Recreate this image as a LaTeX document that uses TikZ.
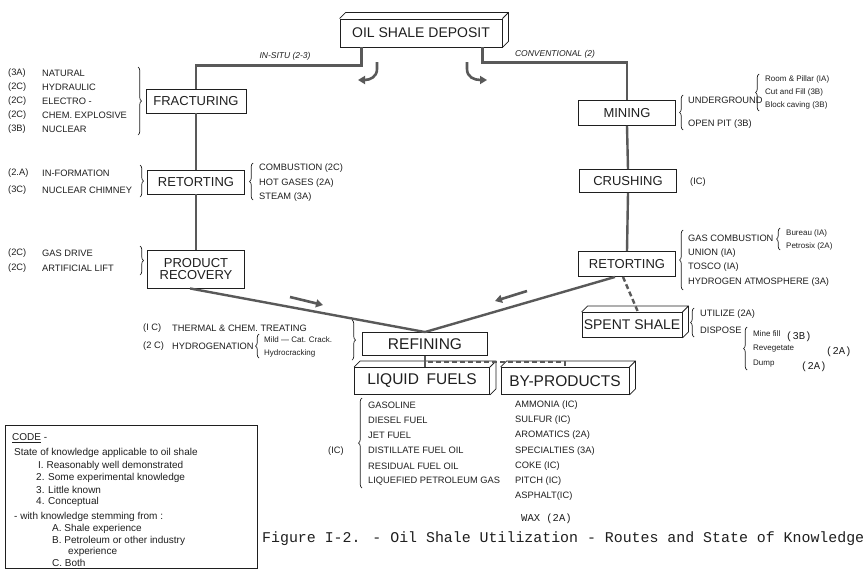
\documentclass[tikz,border=0pt]{standalone}
\usepackage{fontspec}
\setmainfont{Liberation Sans}
\newfontfamily\typefont{Liberation Mono}
\usetikzlibrary{arrows.meta,calc,decorations.pathreplacing}
\definecolor{ink}{gray}{0.12}
\definecolor{wire}{gray}{0.35}
% raised slab look for a stage box: top face and right face
\newcommand{\slab}[1]{%
  \draw[draw=ink, line width=0.8pt]
    (#1.north west) -- ++(6,-6) -- ($(#1.north east)+(6,-6)$)
    -- ($(#1.south east)+(6,-6)$) -- (#1.south east)
    (#1.north east) -- ++(6,-6);}
\begin{document}
\begin{tikzpicture}[x=1pt,y=-1pt,
  stage/.style={draw=ink, line width=0.9pt, fill=white, text=ink,
    font=\fontsize{13}{14}\selectfont, inner sep=0pt, minimum height=24pt, align=center},
  big/.style={font=\fontsize{15.5}{16}\selectfont},
  note/.style={text=ink, font=\fontsize{9.3}{10}\selectfont, inner sep=0pt, anchor=west},
  key/.style={text=ink, font=\fontsize{10}{11}\selectfont, inner sep=0pt, anchor=west},
  fine/.style={text=ink, font=\fontsize{8}{9}\selectfont, inner sep=0pt, anchor=west},
  route/.style={text=ink, font=\itshape\fontsize{8.5}{9}\selectfont, inner sep=0pt},
  typed/.style={text=ink, font=\typefont\fontsize{10.5}{11}\selectfont, inner sep=0pt, anchor=west},
  link/.style={draw=wire, line width=2.4pt},
  dlink/.style={draw=wire, line width=2.4pt, dash pattern=on 5pt off 3pt},
  grp/.style={draw=ink, line width=0.7pt, decorate, decoration={brace, amplitude=3.5pt}},
  flow/.style={draw=wire, line width=2.6pt, -{Triangle[length=7pt,width=8pt]}},
]
\useasboundingbox (0,0) rectangle (867,570);
\fill[white] (0,0) rectangle (867,570);

% ---------- stages ----------
\node[stage, font=\fontsize{14}{15}\selectfont, minimum width=162pt, minimum height=28pt] (deposit) at (421,33) {OIL SHALE DEPOSIT};
\node[stage, minimum width=100pt] (fract) at (196,101) {FRACTURING};
\node[stage, minimum width=97pt] (retl) at (196,182) {RETORTING};
\node[stage, minimum width=97pt, minimum height=38pt] (prod) at (196,269) {PRODUCT\\[-2pt]RECOVERY};
\node[stage, minimum width=97pt, minimum height=25pt] (mining) at (627,113) {MINING};
\node[stage, minimum width=97pt, minimum height=23pt] (crush) at (628,181) {CRUSHING};
\node[stage, minimum width=97pt, minimum height=25pt] (retr) at (627,264) {RETORTING};
\node[stage, font=\fontsize{14}{15}\selectfont, minimum width=100pt, minimum height=25pt] (spent) at (632,325) {SPENT SHALE};
\node[stage, big, minimum width=125pt, minimum height=23pt] (refine) at (425,344) {REFINING};
\node[stage, big, minimum width=135pt, minimum height=27pt] (liquid) at (422,381) {LIQUID\hspace{0.5em}FUELS};
\node[stage, big, minimum width=128pt, minimum height=27pt] (byprod) at (565,381) {BY-PRODUCTS};
\slab{deposit}
\slab{spent}
\slab{liquid}
\slab{byprod}

% ---------- routes ----------
\draw[link] ([xshift=22pt]deposit.south west) -- ++(0,18) -| (fract.north);
\draw[link] ([xshift=-20pt]deposit.south east) -- ++(0,15) -| (mining.north);
\node[route] (insitu) at (285,56) {IN-SITU (2-3)};
\node[route] (conv) at (555,54) {CONVENTIONAL (2)};
\coordinate (ia) at (377,62); \coordinate (ib) at (358,80);
\coordinate (ca) at (467,62); \coordinate (cb) at (487,80);
\draw[flow] (ia) -- ++(0,7) .. controls (377,77) and (370,80) .. (ib);
\draw[flow] (ca) -- ++(0,7) .. controls (467,77) and (474,80) .. (cb);

\draw[link] (fract.south) -- (retl.north);
\draw[link] (retl.south) -- (prod.north);
\draw[link] (mining.south) -- (crush.north);
\draw[link] (crush.south) -- (retr.north);
\draw[link] ([xshift=-6pt]prod.south) -- (refine.north);
\draw[link] ([xshift=-12pt]retr.south) -- (refine.north);
\draw[dlink] ([xshift=-4pt]retr.south) -- ([xshift=6pt]spent.north);
\draw[link] (refine.south) -- (refine.south |- liquid.north);
\coordinate (fork) at (428,362);
\draw[dlink] (fork) -| (byprod.north);

\coordinate (la) at (290,297); \coordinate (lb) at (323,305);
\coordinate (ra) at (527,291); \coordinate (rb) at (495,301);
\draw[flow] (la) -- (lb);
\draw[flow] (ra) -- (rb);

% ---------- in-situ notes ----------
\foreach \c/\t/\y in {(3A)/NATURAL/73, (2C)/HYDRAULIC/87, (2C)/ELECTRO -/101,
                      (2C)/CHEM. EXPLOSIVE/115, (3B)/NUCLEAR/129}
  {\node[note] at (8,\y) {\c}; \node[note] at (42,\y) {\t};}
\draw[grp] (138,67) -- (138,135);

\node[note] at (8,173) {(2.A)}; \node[note] at (42,173) {IN-FORMATION};
\node[note] at (8,190) {(3C)};  \node[note] at (42,190) {NUCLEAR CHIMNEY};
\draw[grp] (140,165) -- (140,197);
\draw[grp] (253,200) -- (253,163);
\node[note] at (259,168) {COMBUSTION (2C)};
\node[note] at (259,183) {HOT GASES (2A)};
\node[note] at (259,197) {STEAM (3A)};

\node[note] at (8,253) {(2C)}; \node[note] at (42,253) {GAS DRIVE};
\node[note] at (8,268) {(2C)}; \node[note] at (42,268) {ARTIFICIAL LIFT};
\draw[grp] (140,246) -- (140,275);

% ---------- refining notes ----------
\node[note] at (143,328) {(I C)}; \node[note] at (172,328) {THERMAL \& CHEM. TREATING};
\node[note] at (143,346) {(2 C)}; \node[note] at (172,346) {HYDROGENATION};
\draw[grp] (259,358) -- (259,334);
\node[fine] at (264,340) {Mild --- Cat. Crack.};
\node[fine] at (264,353) {Hydrocracking};
\draw[grp] (352,320) -- (352,360);

% ---------- conventional notes ----------
\draw[grp] (683,130) -- (683,95);
\node[note] at (688,100) {UNDERGROUND};
\node[note] at (688,124) {OPEN PIT (3B)};
\draw[grp] (759,111) -- (759,74);
\node[fine] at (765,79) {Room \& Pillar (IA)};
\node[fine] at (765,92) {Cut and Fill (3B)};
\node[fine] at (765,105) {Block caving (3B)};

\node[note] at (690,182) {(IC)};

\draw[grp] (683,290) -- (683,230);
\node[note] at (688,238) {GAS COMBUSTION};
\node[note] at (688,253) {UNION (IA)};
\node[note] at (688,267) {TOSCO (IA)};
\node[note] at (688,282) {HYDROGEN ATMOSPHERE (3A)};
\draw[grp] (780,250) -- (780,228);
\node[fine] at (786,233) {Bureau (IA)};
\node[fine] at (786,246) {Petrosix (2A)};

\draw[grp] (694,337) -- (694,308);
\node[note] at (700,314) {UTILIZE (2A)};
\node[note] at (700,330) {DISPOSE};
\draw[grp] (747,370) -- (747,327);
\node[fine] at (753,334) {Mine fill};
\node[fine] at (753,349) {Revegetate};
\node[fine] at (753,364) {Dump};
\node[typed] at (786,337) {(3B)};
\node[typed] at (826,352) {(2A)};
\node[typed] at (801,367) {(2A)};

% ---------- products ----------
\draw[grp] (362,488) -- (362,398);
\node[note] at (328,451) {(IC)};
\foreach \t [count=\i from 0] in {GASOLINE, DIESEL FUEL, JET FUEL, DISTILLATE FUEL OIL,
                                   RESIDUAL FUEL OIL, LIQUEFIED PETROLEUM GAS}
  \node[note] at (368,405+15.2*\i) {\t};
\foreach \t [count=\i from 0] in {AMMONIA (IC), SULFUR (IC), AROMATICS (2A), SPECIALTIES (3A),
                                   COKE (IC), PITCH (IC), ASPHALT(IC)}
  \node[note] at (515,405+15.2*\i) {\t};
\node[typed] at (521,519) {WAX (2A)};

% ---------- code key ----------
\node[draw=ink, line width=0.8pt, anchor=north west, minimum width=252pt,
      minimum height=143pt, inner sep=0pt] (codebox) at (5,425) {};
\node[key] at (12,438) {\underline{CODE} -};
\node[key] at (14,453) {State of knowledge applicable to oil shale};
\node[key] at (38,466) {I. Reasonably well demonstrated};
\node[key] at (36,478) {2. Some experimental knowledge};
\node[key] at (36,490) {3. Little known};
\node[key] at (36,502) {4. Conceptual};
\node[key] at (14,517) {- with knowledge stemming from :};
\node[key] at (52,529) {A. Shale experience};
\node[key] at (52,541) {B. Petroleum or other industry};
\node[key] at (68,552) {experience};
\node[key] at (52,563) {C. Both};

\node[typed, font=\typefont\fontsize{14.9}{15}\selectfont] (caption) at (262,539)
  {Figure I-2. - Oil Shale Utilization - Routes and State of Knowledge};
\end{tikzpicture}
\end{document}
